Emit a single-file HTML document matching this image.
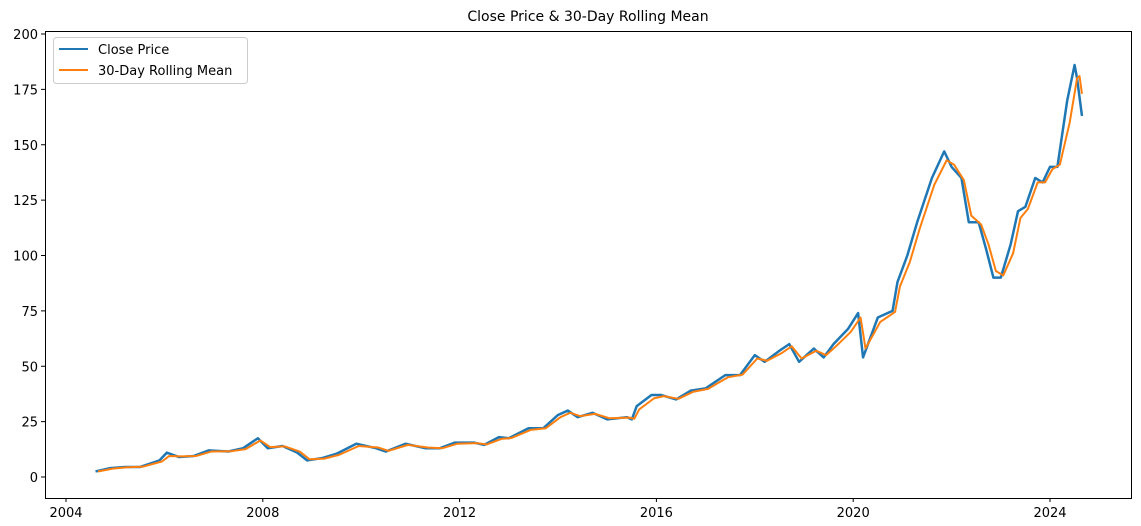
<!DOCTYPE html>
<html><head><meta charset="utf-8"><style>
body{margin:0;background:#fff}
svg{display:block;font-family:"DejaVu Sans","Liberation Sans",sans-serif}
</style></head><body>
<svg id="chart" width="1141" height="526">
<text x="588" y="21" text-anchor="middle" font-size="14">Close Price &amp; 30-Day Rolling Mean</text>
<g id="plot"></g>
<rect x="45.5" y="31.5" width="1086" height="467" fill="none" stroke="#000" stroke-width="1"/>
<g>
<rect x="53.5" y="37.5" width="194" height="46" rx="3" fill="#fff" fill-opacity="0.8" stroke="#ccc"/>
<line x1="59" y1="49" x2="88" y2="49" stroke="#1f77b4" stroke-width="2"/>
<text x="98" y="54" font-size="13">Close Price</text>
<line x1="59" y1="70" x2="88" y2="70" stroke="#ff7f0e" stroke-width="2"/>
<text x="98" y="75" font-size="13">30-Day Rolling Mean</text>
</g>
</svg>
<script>
const yTicks=[0,25,50,75,100,125,150,175,200];
const xTicks=[2004,2008,2012,2016,2020,2024];
const dates=[2004.6,2004.9,2005.2,2005.5,2005.9,2006.05,2006.3,2006.6,2006.9,2007.3,2007.6,2007.9,2008.1,2008.4,2008.7,2008.9,2009.2,2009.5,2009.9,2010.3,2010.5,2010.9,2011.3,2011.6,2011.9,2012.3,2012.5,2012.8,2013.0,2013.4,2013.7,2014.0,2014.2,2014.4,2014.7,2015.0,2015.4,2015.5,2015.6,2015.9,2016.1,2016.4,2016.7,2017.0,2017.4,2017.7,2018.0,2018.2,2018.5,2018.7,2018.9,2019.2,2019.4,2019.6,2019.9,2020.1,2020.2,2020.5,2020.8,2020.9,2021.1,2021.3,2021.6,2021.85,2022.0,2022.2,2022.35,2022.55,2022.7,2022.85,2023.0,2023.2,2023.35,2023.5,2023.7,2023.85,2024.0,2024.15,2024.35,2024.5,2024.55,2024.65];
const closeVals=[2.5,4,4.5,4.5,7.5,11,9,9.5,12,11.5,13,17.5,13,14,11,7.5,8.5,10.5,15,13,11.5,15,13,13,15.5,15.5,14.5,18,17.5,22,22,28,30,27,29,26,27,26,32,37,37,35,39,40,46,46,55,52,57,60,52,58,54,60,67,74,54,72,75,88,100,115,135,147,140,135,115,115,103,90,90,105,120,122,135,133,140,140,170,186,180,163];
const meanDates=[2004.65,2004.95,2005.25,2005.55,2005.95,2006.1,2006.35,2006.65,2006.95,2007.35,2007.65,2007.95,2008.15,2008.45,2008.75,2008.95,2009.25,2009.55,2009.95,2010.35,2010.55,2010.95,2011.35,2011.65,2011.95,2012.35,2012.55,2012.85,2013.05,2013.45,2013.75,2014.05,2014.25,2014.45,2014.75,2015.05,2015.45,2015.55,2015.65,2015.95,2016.15,2016.45,2016.75,2017.05,2017.45,2017.75,2018.05,2018.25,2018.55,2018.75,2018.95,2019.25,2019.45,2019.65,2019.95,2020.15,2020.25,2020.55,2020.85,2020.95,2021.15,2021.35,2021.65,2021.9,2022.05,2022.25,2022.4,2022.6,2022.75,2022.9,2023.05,2023.25,2023.4,2023.55,2023.75,2023.9,2024.05,2024.2,2024.4,2024.55,2024.6,2024.65];
const meanVals=[2.5,3.8,4.4,4.6,7,9.5,9.3,9.5,11.5,11.6,12.6,16.5,13.5,13.8,11.5,8,8.3,10,14,13.3,11.8,14.5,13.3,13,15,15.3,14.7,17.2,17.6,21.3,22,27,29,27.5,28.5,26.5,26.8,26.3,30.5,35.5,36.5,35.3,38.5,39.8,45,46.2,53.5,52.5,56,59,53.5,57,55,59,65.5,72,58,70,74.5,86,97,112,132,143,141,134,118,114,105,93,91,101,117,121,133,133,139,141,160,180,181,173];
const X0=66,PX=49.2,Y0=477,PY=443/200;
const xs=d=>X0+(d-2004)*PX, ys=v=>Y0-v*PY;
const svg=document.getElementById('plot');const NS='http://www.w3.org/2000/svg';
function mk(t,a){const e=document.createElementNS(NS,t);for(const k in a)e.setAttribute(k,a[k]);svg.appendChild(e);return e;}
yTicks.forEach(v=>{
 const l=mk('line',{x1:41,x2:45,y1:ys(v),y2:ys(v),stroke:'#000'});
 
 
 const t=mk('text',{x:38,y:ys(v)+5,'text-anchor':'end','font-size':13});t.textContent=v;
 
 
});
xTicks.forEach(v=>{
 const l=mk('line',{x1:xs(v),x2:xs(v),y1:498,y2:502,stroke:'#000'});
 
 
 const t=mk('text',{x:xs(v),y:517,'text-anchor':'middle','font-size':13});t.textContent=v;
 
 
});
const c=mk('polyline',{points:dates.map((d,i)=>xs(d)+','+ys(closeVals[i])).join(' '),fill:'none',stroke:'#1f77b4','stroke-width':2.5,'stroke-linejoin':'round'});


const m=mk('polyline',{points:meanDates.map((d,i)=>xs(d)+','+ys(meanVals[i])).join(' '),fill:'none',stroke:'#ff7f0e','stroke-width':2,'stroke-linejoin':'round'});


</script>
</body></html>
